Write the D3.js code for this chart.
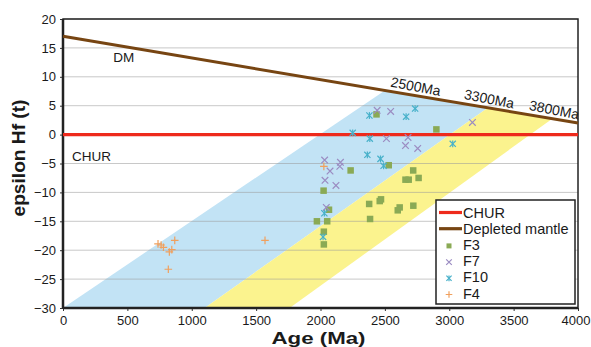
<!DOCTYPE html>
<html>
<head>
<meta charset="utf-8">
<script src="https://cdn.jsdelivr.net/npm/d3@7"></script>
<style>
  body { margin: 0; background: #fff; }
  text { font-family: "Liberation Sans", Arial, sans-serif; fill: #1a1a1a; }
</style>
</head>
<body>
<script>
var svgWidth = 591;
var svgHeight = 347;

// reference lines: [age, eHf] at both ends
var dmLine = [[0, 17], [4000, 2]];
var churLine = [[0, 0], [4000, 0]];

// crustal evolution bands: ages where edges hit eHf=-30 and where they meet DM
var blueBottom = [0, 1100];
var blueTop = [2500, 3300];
var yellowBottom = [1100, 1760];
var yellowTop = [3300, 3800];
var modelAgeLabels = ["2500Ma", "3300Ma", "3800Ma"];
var modelAgeLabelAt = [2540, 3110, 3615];

// samples
var f3Age = [2435, 2900, 2530, 2234, 2720, 2660, 2685, 2762, 2024, 2470, 2460, 2378, 2721, 2615, 2600, 2066, 2385, 1972, 2052, 2026, 2026];
var f3Eps = [3.5, 0.9, -5.3, -6.2, -6.2, -7.8, -7.8, -7.5, -9.7, -11.2, -11.5, -12.0, -12.3, -12.6, -13.1, -13.0, -14.6, -15.0, -15.0, -16.8, -19.0];

var f7Age = [2440, 2545, 3180, 2512, 2680, 2660, 2755, 2032, 2155, 2150, 2074, 2035, 2120, 2045];
var f7Eps = [4.2, 4.0, 2.1, -0.7, -0.5, -1.9, -2.4, -4.4, -4.8, -5.5, -6.3, -7.9, -8.8, -12.6];

var f10Age = [2380, 2665, 2735, 2250, 2383, 3027, 2364, 2466, 2490, 2030, 2020];
var f10Eps = [3.3, 3.1, 4.5, 0.3, -0.7, -1.6, -3.5, -4.2, -5.4, -13.6, -17.7];

var f4Age = [738, 762, 780, 868, 845, 826, 818, 1569, 2026];
var f4Eps = [-18.9, -19.1, -19.5, -18.3, -19.9, -20.3, -23.3, -18.3, -5.5];

var xTicks = [0, 500, 1000, 1500, 2000, 2500, 3000, 3500, 4000];
var yTicks = [-30, -25, -20, -15, -10, -5, 0, 5, 10, 15, 20];

var colors = {
    chur: "#ee2a1c",
    dm: "#774512",
    blue: "#c2e3f5",
    yellow: "#fbf38e",
    f3: "#8aaa55",
    f7: "#9b8cc2",
    f10: "#48b1ca",
    f4: "#f0a05e"
};

var margin = {left: 63, right: 13, top: 19, bottom: 39};
var plotW = svgWidth - margin.left - margin.right;
var plotH = svgHeight - margin.top - margin.bottom;

var svg = d3.select("body").append("svg").attr("width", svgWidth).attr("height", svgHeight);
var g = svg.append("g").attr("transform", "translate(" + margin.left + "," + margin.top + ")");

var x = d3.scaleLinear().domain([0, 4000]).range([0, plotW]);
var y = d3.scaleLinear().domain([-30, 20]).range([plotH, 0]);

function dm(age) {
    var t = (age - dmLine[0][0]) / (dmLine[1][0] - dmLine[0][0]);
    return dmLine[0][1] + t * (dmLine[1][1] - dmLine[0][1]);
}

function bandPoints(bottom, top) {
    return [
        [x(bottom[0]), y(-30)],
        [x(top[0]), y(dm(top[0]))],
        [x(top[1]), y(dm(top[1]))],
        [x(bottom[1]), y(-30)]
    ].map(function(p) { return p.join(","); }).join(" ");
}

// bands
g.append("polygon").attr("points", bandPoints(blueBottom, blueTop)).attr("fill", colors.blue);
g.append("polygon").attr("points", bandPoints(yellowBottom, yellowTop)).attr("fill", colors.yellow);

// grid
g.selectAll(".grid").data(yTicks).join("line")
    .attr("class", "grid")
    .attr("x1", 0).attr("x2", plotW)
    .attr("y1", function(d) { return y(d); })
    .attr("y2", function(d) { return y(d); })
    .attr("stroke", "#9a9a9a").attr("stroke-opacity", 0.55).attr("stroke-width", 1);

// axes
var xAxis = g.append("g").attr("transform", "translate(0," + plotH + ")")
    .call(d3.axisBottom(x).tickValues(xTicks).tickSize(3).tickPadding(4).tickFormat(d3.format("d")));
var yAxis = g.append("g")
    .call(d3.axisLeft(y).tickValues(yTicks).tickSize(3).tickPadding(4).tickFormat(d3.format("d")));
[xAxis, yAxis].forEach(function(a) {
    a.select(".domain").remove();
    a.selectAll(".tick line").attr("stroke", "#333");
    a.selectAll("text").style("font-size", "13px").attr("fill", "#1a1a1a");
});
xAxis.selectAll("text").attr("dy", "0.8em");
// keep the last label inside the page
xAxis.selectAll(".tick text").filter(function(d) { return d === 4000; })
    .attr("text-anchor", "end").attr("x", 12);

// frame
g.append("rect").attr("x", 0).attr("y", 0).attr("width", plotW).attr("height", plotH)
    .attr("fill", "none").attr("stroke", "#222").attr("stroke-width", 1.5);
g.append("line").attr("x1", 0).attr("x2", 0).attr("y1", 0).attr("y2", plotH)
    .attr("stroke", "#222").attr("stroke-width", 2.5);
g.append("line").attr("x1", 0).attr("x2", plotW).attr("y1", plotH).attr("y2", plotH)
    .attr("stroke", "#222").attr("stroke-width", 2.5);

// CHUR and DM lines
var line = d3.line().x(function(d) { return x(d[0]); }).y(function(d) { return y(d[1]); });
g.append("path").attr("d", line(churLine)).attr("stroke", colors.chur).attr("stroke-width", 3.2).attr("fill", "none");
g.append("path").attr("d", line(dmLine)).attr("stroke", colors.dm).attr("stroke-width", 3).attr("fill", "none");

g.append("text").attr("x", x(390)).attr("y", y(dm(390)) + 17).style("font-size", "13.5px").text("DM");
g.append("text").attr("x", x(70)).attr("y", y(-4.6)).style("font-size", "13.5px").text("CHUR");

var angle = Math.atan2(y(dmLine[1][1]) - y(dmLine[0][1]), x(dmLine[1][0]) - x(dmLine[0][0])) * 180 / Math.PI + 1.5;
g.selectAll(".malabel").data(modelAgeLabels).join("text")
    .attr("class", "malabel")
    .attr("transform", function(d, i) {
        var a = modelAgeLabelAt[i];
        return "translate(" + x(a) + "," + (y(dm(a)) - 5) + ") rotate(" + angle + ")";
    })
    .style("font-size", "14px")
    .text(function(d) { return d; });

// markers
function square(sel, s) {
    sel.append("rect").attr("x", -s / 2).attr("y", -s / 2).attr("width", s).attr("height", s).attr("fill", colors.f3);
}
function cross(sel, s, color) {
    sel.append("path").attr("d", "M" + (-s) + "," + (-s) + "L" + s + "," + s + "M" + (-s) + "," + s + "L" + s + "," + (-s))
        .attr("stroke", color).attr("stroke-width", 1.2).attr("fill", "none");
}
function star(sel, s) {
    cross(sel, s, colors.f10);
    sel.append("path").attr("d", "M0," + (-s * 1.1) + "L0," + (s * 1.1))
        .attr("stroke", colors.f10).attr("stroke-width", 1.2);
}
function plus(sel, s) {
    sel.append("path").attr("d", "M" + (-s) + ",0L" + s + ",0M0," + (-s) + "L0," + s)
        .attr("stroke", colors.f4).attr("stroke-width", 1.2).attr("fill", "none");
}

function plotSeries(ages, eps, cls, draw) {
    g.selectAll("." + cls).data(ages).join("g")
        .attr("class", cls)
        .attr("transform", function(d, i) { return "translate(" + x(d) + "," + y(eps[i]) + ")"; })
        .each(function() { draw(d3.select(this)); });
}
plotSeries(f4Age, f4Eps, "f4", function(s) { plus(s, 3.8); });
plotSeries(f3Age, f3Eps, "f3", function(s) { square(s, 6.5); });
plotSeries(f7Age, f7Eps, "f7", function(s) { cross(s, 3.3, colors.f7); });
plotSeries(f10Age, f10Eps, "f10", function(s) { star(s, 3.1); });

// legend
var legend = svg.append("g").attr("transform", "translate(436,200)");
legend.append("rect").attr("width", 139).attr("height", 104)
    .attr("fill", "#fff").attr("stroke", "#222").attr("stroke-width", 1.5);
var legendItems = ["CHUR", "Depleted mantle", "F3", "F7", "F10", "F4"];
var rows = legend.selectAll(".row").data(legendItems).join("g")
    .attr("class", "row")
    .attr("transform", function(d, i) { return "translate(0," + (12.5 + i * 16.2) + ")"; });
rows.append("text").attr("x", 27).attr("y", 5).style("font-size", "14.5px").text(function(d) { return d; });
rows.each(function(d, i) {
    var r = d3.select(this);
    if (i === 0 || i === 1) {
        r.append("line").attr("x1", 3).attr("x2", 26).attr("y1", 0).attr("y2", 0)
            .attr("stroke", i === 0 ? colors.chur : colors.dm).attr("stroke-width", 3.2);
    } else {
        var m = r.append("g").attr("transform", "translate(13,1)");
        if (d === "F3") square(m, 5);
        if (d === "F7") cross(m, 2.8, colors.f7);
        if (d === "F10") star(m, 2.6);
        if (d === "F4") plus(m, 3.3);
    }
});

// axis titles
svg.append("text").attr("x", margin.left + x(2000) - 2).attr("y", 344)
    .attr("text-anchor", "middle").style("font-size", "17px").style("font-weight", "bold")
    .attr("textLength", 94).attr("lengthAdjust", "spacingAndGlyphs")
    .text("Age (Ma)");
svg.append("text").attr("transform", "translate(25,158) rotate(-90)")
    .attr("text-anchor", "middle").style("font-size", "18px").style("font-weight", "bold")
    .attr("textLength", 117).attr("lengthAdjust", "spacingAndGlyphs")
    .text("epsilon Hf (t)");
</script>
</body>
</html>
